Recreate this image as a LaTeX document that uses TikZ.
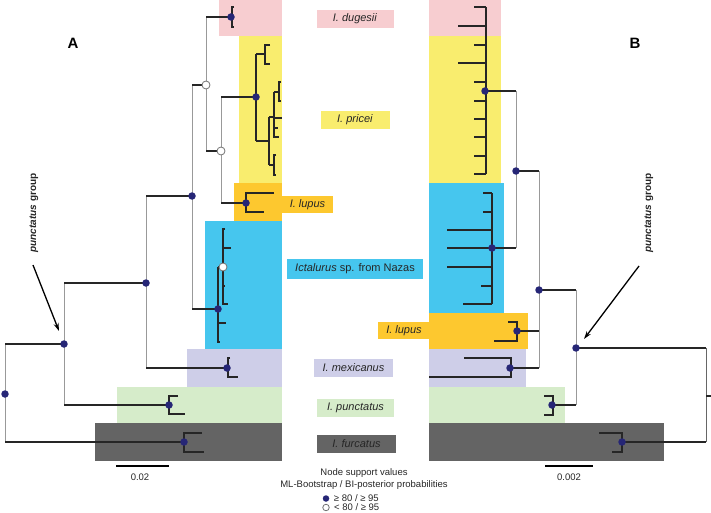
\documentclass[tikz,border=0pt]{standalone}
\usepackage{fontspec}
\setmainfont{Liberation Sans}
\usepackage{tikz}
\usetikzlibrary{positioning, arrows.meta}

\definecolor{cPink}{RGB}{247,205,208}
\definecolor{cYellow}{RGB}{249,237,110}
\definecolor{cOrange}{RGB}{253,200,47}
\definecolor{cBlue}{RGB}{70,198,238}
\definecolor{cPurple}{RGB}{206,206,232}
\definecolor{cGreen}{RGB}{214,236,202}
\definecolor{cGrey}{RGB}{100,100,100}
\definecolor{dotblue}{RGB}{38,38,118}

\begin{document}
\begin{tikzpicture}[x=1pt, y=-1pt, >={Stealth[length=8pt, width=5pt]},
        br/.style={line width=1.5pt, draw=black!85},
        vl/.style={line width=0.9pt, draw=black!40},
        tip/.style={line width=1.1pt, draw=black!85},
        fd/.style={circle, fill=dotblue, inner sep=0pt, minimum size=7.5pt},
        od/.style={circle, draw=black!55, fill=white, line width=0.8pt, inner sep=0pt, minimum size=8pt},
        lab/.style={inner sep=0pt, minimum height=18pt, text=black!85, font=\fontsize{11}{13}\selectfont},
        small/.style={font=\fontsize{9.5}{11}\selectfont, text=black!85}]
        \useasboundingbox (0,0) rectangle (711,513);

        \fill[cPink] (219,0) rectangle (282,36);
        \fill[cYellow] (239,36) rectangle (282,183);
        \fill[cOrange] (234,183) rectangle (282,221);
        \fill[cBlue] (205,221) rectangle (282,349);
        \fill[cPurple] (187,349) rectangle (282,387);
        \fill[cGreen] (117,387) rectangle (282,423);
        \fill[cGrey] (95,423) rectangle (282,461);

        \fill[cPink] (429,0) rectangle (501,36);
        \fill[cYellow] (429,36) rectangle (501,183);
        \fill[cBlue] (429,183) rectangle (504,313);
        \fill[cOrange] (429,313) rectangle (528,349);
        \fill[cPurple] (429,349) rectangle (526,387);
        \fill[cGreen] (429,387) rectangle (565,423);
        \fill[cGrey] (429,423) rectangle (664,461);

        \node[lab, fill=cPink, minimum width=77pt] (dug) at (355,19) {\textit{I. dugesii}};
        \node[lab, fill=cYellow, minimum width=69pt] (pri) at (355,120) {\textit{I. pricei}};
        \node[lab, fill=cOrange, minimum width=51pt, minimum height=17pt] (lupA) at (307.5,204.5) {\textit{I. lupus}};
        \node[lab, fill=cBlue, minimum width=136pt, minimum height=20pt] (naz) at (355,269) {\textit{Ictalurus} sp. from Nazas};
        \node[lab, fill=cOrange, minimum width=52pt, minimum height=17pt] (lupB) at (404,330.5) {\textit{I. lupus}};
        \node[lab, fill=cPurple, minimum width=79pt] (mex) at (353.5,368) {\textit{I. mexicanus}};
        \node[lab, fill=cGreen, minimum width=77pt] (pun) at (355.5,408) {\textit{I. punctatus}};
        \node[lab, fill=cGrey, minimum width=79pt] (fur) at (356.5,444) {\textit{I. furcatus}};

        \node[font=\bfseries\fontsize{15}{17}\selectfont] (labA) at (73,43) {A};
        \node[font=\bfseries\fontsize{15}{17}\selectfont] (labB) at (635,43) {B};
        \node[rotate=90, font=\bfseries\fontsize{10}{12}\selectfont, text=black!85] (grpA) at (34,213) {\textit{punctatus} group};
        \node[rotate=90, font=\bfseries\fontsize{10}{12}\selectfont, text=black!85] (grpB) at (649,213) {\textit{punctatus} group};

        \coordinate (arA1) at (33,265);
        \coordinate (arA2) at (59,331);
        \coordinate (arB1) at (639,266);
        \coordinate (arB2) at (584,339);
        \draw[->, line width=1.3pt] (arA1) -- (arA2);
        \draw[->, line width=1.3pt] (arB1) -- (arB2);

        \coordinate (aDug) at (231,17);
        \coordinate (aO1) at (206,85);
        \coordinate (aO2) at (221,151);
        \coordinate (aPri) at (256,97);
        \coordinate (aLup) at (246,203);
        \coordinate (aN1) at (192,196);
        \coordinate (aNaz) at (218,309);
        \coordinate (aO3) at (223,267);
        \coordinate (aN2) at (146,283);
        \coordinate (aMex) at (227,368);
        \coordinate (aGrp) at (64,344);
        \coordinate (aPun) at (169,405);
        \coordinate (aRoot) at (5,394);
        \coordinate (aFur) at (184,442);

        \draw[vl] (aO1 |- aDug) -- (aO1 |- aO2);
        \draw[vl] (aO2 |- aPri) -- (aO2 |- aLup);
        \draw[vl] (aN1 |- aO1) -- (aN1 |- aNaz);
        \draw[vl] (aN2 |- aN1) -- (aN2 |- aMex);
        \draw[vl] (aGrp |- aN2) -- (aGrp |- aPun);
        \draw[vl] (aRoot |- aGrp) -- (aRoot |- aFur);

        \draw[br] (aO1 |- aDug) -- (aDug);
        \draw[br] (aN1 |- aO1) -- (aO1);
        \draw[br] (aO1 |- aO2) -- (aO2);
        \draw[br] (aO2 |- aPri) -- (aPri);
        \draw[br] (aO2 |- aLup) -- (aLup);
        \draw[br] (aN2 |- aN1) -- (aN1);
        \draw[br] (aN1 |- aNaz) -- (aNaz);
        \draw[br] (aGrp |- aN2) -- (aN2);
        \draw[br] (aN2 |- aMex) -- (aMex);
        \draw[br] (aRoot |- aGrp) -- (aGrp);
        \draw[br] (aGrp |- aPun) -- (aPun);
        \draw[br] (aRoot |- aFur) -- (aFur);

        \draw[tip] (234,7) -- (232,7) -- (232,27) -- (234,27);
        \draw[tip] (256,54) -- (256,141);
        \draw[tip] (256,54) -- (265,54);
        \draw[tip] (270,45) -- (265,45) -- (265,64) -- (270,64);
        \draw[tip] (256,141) -- (269,141);
        \draw[tip] (269,117) -- (269,165);
        \draw[tip] (269,117) -- (274,117);
        \draw[tip] (274,92) -- (274,137) -- (279,137);
        \draw[tip] (274,92) -- (279,92);
        \draw[tip] (281,82) -- (279,82) -- (279,101) -- (281,101);
        \draw[tip] (274,118) -- (282,118);
        \draw[tip] (274,128) -- (278,128);
        \draw[tip] (269,165) -- (274,165);
        \draw[tip] (276,155) -- (274,155) -- (274,175) -- (276,175);
        \draw[tip] (274,193) -- (246,193) -- (246,212) -- (264,212);
        \draw[tip] (218,267) -- (218,342) -- (220,342);
        \draw[tip] (218,267) -- (aO3);
        \draw[tip] (225,229) -- (223,229) -- (223,305);
        \draw[tip] (223,248) -- (231,248);
        \draw[tip] (223,286) -- (225,286);
        \draw[tip] (223,304) -- (228,304);
        \draw[tip] (218,323) -- (226,323);
        \draw[tip] (230,358) -- (228,358) -- (228,377) -- (238,377);
        \draw[tip] (178,396) -- (169,396) -- (169,414) -- (185,414);
        \draw[tip] (202,433) -- (184,433) -- (184,452) -- (204,452);

        \foreach \n in {aDug, aPri, aLup, aN1, aNaz, aN2, aMex, aGrp, aPun, aRoot, aFur}
            \node[fd] (d\n) at (\n) {};
        \foreach \n in {aO1, aO2, aO3}
            \node[od] (d\n) at (\n) {};

        \coordinate (bBig) at (485,91);
        \coordinate (bNaz) at (492,248);
        \coordinate (bN1) at (516,171);
        \coordinate (bN2) at (539,290);
        \coordinate (bLup) at (517,331);
        \coordinate (bMex) at (510,368);
        \coordinate (bGrp) at (576,348);
        \coordinate (bPun) at (552,405);
        \coordinate (bFur) at (622,442);
        \coordinate (bRoot) at (706,396);
        \coordinate (bEdge) at (711,396);

        \draw[vl] (bN1 |- bBig) -- (bN1 |- bNaz);
        \draw[vl] (bN2 |- bN1) -- (bN2 |- bMex);
        \draw[vl] (bGrp |- bN2) -- (bGrp |- bPun);
        \draw[vl, draw=black!60] (bRoot |- bGrp) -- (bRoot |- bFur);

        \draw[br] (bBig) -- (bN1 |- bBig);
        \draw[br] (bNaz) -- (bN1 |- bNaz);
        \draw[br] (bN1) -- (bN2 |- bN1);
        \draw[br] (bLup) -- (bN2 |- bLup);
        \draw[br] (bMex) -- (bN2 |- bMex);
        \draw[br] (bN2) -- (bGrp |- bN2);
        \draw[br] (bPun) -- (bGrp |- bPun);
        \draw[br] (bGrp) -- (bRoot |- bGrp);
        \draw[br] (bFur) -- (bRoot |- bFur);
        \draw[tip] (bRoot) -- (bEdge);

        \draw[tip] (486,7) -- (486,174);
        \foreach \y/\x in {7/474, 26/458, 45/474, 63/458, 82/474, 101/474, 119/474, 137/474, 156/474, 174/474}
            \draw[tip] (\x,\y) -- (486,\y);
        \draw[tip] (492,193) -- (492,304);
        \foreach \y/\x in {193/483, 212/483, 230/447, 248/447, 267/447, 286/481, 304/463}
            \draw[tip] (\x,\y) -- (492,\y);
        \draw[tip] (508,322) -- (517,322) -- (517,341) -- (494,341);
        \draw[tip] (464,358) -- (511,358) -- (511,377) -- (429,377);
        \draw[tip] (544,396) -- (553,396) -- (553,415) -- (544,415);
        \draw[tip] (599,433) -- (622,433) -- (622,452) -- (612,452);

        \foreach \n in {bBig, bNaz, bN1, bN2, bLup, bMex, bGrp, bPun, bFur}
            \node[fd] (d\n) at (\n) {};

        \coordinate (sA1) at (116,466);
        \coordinate (sA2) at (169,466);
        \coordinate (sB1) at (545,466);
        \coordinate (sB2) at (593,466);
        \draw[line width=2pt] (sA1) -- (sA2);
        \draw[line width=2pt] (sB1) -- (sB2);
        \node[small] (sclA) at (140,477) {0.02};
        \node[small] (sclB) at (569,477) {0.002};

        \node[small] (legT) at (364,473) {Node support values};
        \node[small] (legS) at (364,485) {ML-Bootstrap / BI-posterior probabilities};
        \node[fd, minimum size=6.5pt] (legF) at (326,498.5) {};
        \node[od, minimum size=6.5pt] (legO) at (326,507.5) {};
        \node[small, right=1pt of legF] (legFt) {≥ 80 / ≥ 95};
        \node[small, right=1pt of legO] (legOt) {< 80 / ≥ 95};
\end{tikzpicture}
\end{document}
